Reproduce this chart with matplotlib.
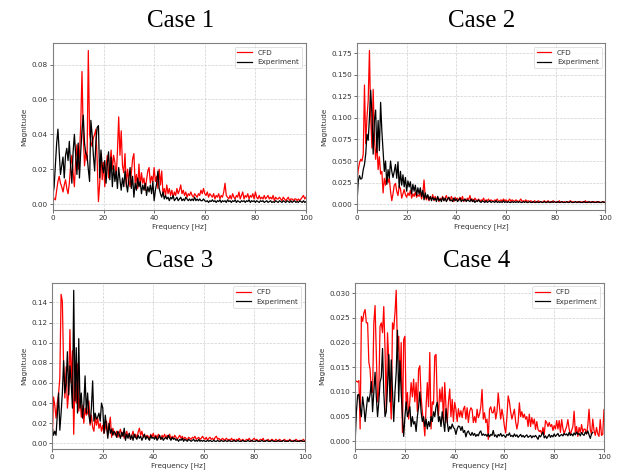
import numpy as np
import matplotlib
matplotlib.use('Agg')
from matplotlib import pyplot as plt
from matplotlib.ticker import MultipleLocator

# Frequency bins [Hz], 0.5 Hz spacing
freq = np.arange(0, 100.5, 0.5)

# Magnitudes, in units of 1e-3 (one row = 5 Hz)
case1_cfd = [
    5, 3, 2.5, 8, 13, 16, 12, 10, 7, 11,
    14, 9, 6, 12, 22, 28, 18, 10, 25, 34,
    20, 28, 45, 76, 40, 22, 30, 25, 88, 40,
    36, 33, 38, 40, 43, 25, 1.5, 12, 29, 14,
    24, 10, 21, 28, 15, 22, 31, 20, 28, 24,
    15, 30, 50, 28, 42, 22, 18, 29, 10, 20,
    14, 10, 18, 26, 29, 12, 17, 9, 23, 10,
    18, 12, 15, 8, 14, 19, 21, 12, 16, 13,
    21, 13, 16, 9, 20, 11, 19, 6, 9, 5,
    11, 6, 9, 5, 8, 4, 7, 5, 9, 6,
    8, 11, 6, 8, 5, 7, 4, 6, 5, 7,
    5, 4, 6, 5, 4, 6, 5, 8, 6, 9,
    6, 5, 7, 4, 6, 5, 4, 6, 3, 5,
    4, 6, 3, 5, 4, 7, 12, 5, 4, 3,
    5, 3, 6, 4, 3, 5, 4, 7, 3, 5,
    7, 3, 5, 4, 6, 3, 5, 4, 6, 3,
    7, 4, 3, 5, 3, 4, 3, 5, 3, 4,
    5, 3, 4, 3, 5, 2, 4, 3, 3, 4,
    3, 2, 4, 3, 2, 3, 4, 2, 3, 3,
    2, 3, 3, 2, 3, 2, 3, 4, 5, 3,
    4,
]
case1_exp = [
    5, 10, 22, 35, 43, 30, 17, 22, 27, 15,
    28, 32, 25, 36, 22, 12, 30, 40, 28, 17,
    35, 15, 30, 42, 51, 35, 29, 28, 20, 13,
    48, 40, 28, 19, 36, 44, 45, 15, 31, 22,
    18, 25, 12, 23, 30, 14, 27, 10, 22, 13,
    19, 9, 21, 14, 8, 15, 10, 19, 12, 7,
    14, 21, 9, 16, 4, 12, 8, 15, 10, 13,
    6, 11, 8, 12, 5, 10, 7, 11, 6, 13,
    2, 8, 12, 19, 9, 6, 4, 7, 3, 5,
    3, 4, 2, 4, 3, 5, 2, 3, 4, 2,
    3, 4, 2, 3, 2, 4, 3, 2, 3, 2,
    3, 2, 4, 2, 3, 2, 3, 2, 2, 3,
    2, 1.5, 2, 1, 2, 1.5, 2.5, 1.5, 2, 1,
    2, 1.5, 2.5, 1, 2, 1.5, 2, 1, 2.5, 1.5,
    2, 1, 2, 1.5, 2.5, 1, 2, 1.5, 1, 2,
    1.5, 2, 1, 2, 1.5, 2.5, 1, 2, 1.5, 2,
    1, 2, 1.5, 1, 2, 1.5, 2, 1, 1.5, 2,
    1, 1.5, 2, 1, 1.5, 1, 2, 1.5, 1, 2,
    1.5, 1, 2, 1.5, 1, 2, 1.5, 1, 2, 1,
    1.5, 2, 1, 1.5, 1, 2, 1.5, 1, 2, 1,
    1.5,
]

case2_cfd = [
    27, 40, 48, 52, 50, 58, 138, 70, 100, 120,
    178, 101, 65, 133, 78, 52, 70, 40, 55, 35,
    38, 13, 30, 22, 34, 25, 30, 15, 4, 12,
    22, 24, 15, 10, 21, 18, 7, 12, 17, 11,
    8, 13, 10, 16, 7, 12, 9, 14, 8, 11,
    9, 14, 6, 12, 28, 8, 5, 10, 4, 8,
    6, 11, 4, 9, 5, 8, 3, 7, 5, 9,
    4, 7, 10, 5, 8, 4, 9, 6, 3, 8,
    5, 7, 4, 8, 5, 9, 3, 6, 4, 7,
    5, 10, 4, 6, 3, 7, 5, 4, 6, 3,
    5, 4, 7, 3, 5, 4, 6, 3, 5, 4,
    3, 5, 4, 6, 3, 4, 5, 3, 6, 4,
    5, 3, 4, 6, 3, 5, 4, 3, 5, 4,
    3, 4, 6, 3, 4, 3, 5, 3, 4, 3,
    4, 3, 2, 4, 3, 2, 4, 3, 3, 2,
    3, 4, 2, 3, 4, 2, 3, 2, 4, 3,
    2, 3, 2, 4, 2, 3, 2, 3, 2, 3,
    2, 3, 4, 2, 3, 2, 3, 2, 3, 2,
    3, 2, 3, 2, 4, 2, 3, 2, 2, 3,
    2, 3, 2, 3, 2, 3, 2, 2, 3, 2,
    3,
]
case2_exp = [
    3, 27, 33, 29, 30, 40, 46, 58, 81, 74,
    100, 132, 105, 58, 97, 109, 60, 97, 62, 118,
    85, 62, 38, 50, 23, 40, 30, 50, 38, 31,
    38, 46, 30, 49, 19, 38, 22, 34, 20, 31,
    15, 27, 20, 26, 12, 23, 15, 22, 10, 19,
    12, 19, 9, 16, 5, 13, 7, 11, 5, 9,
    4, 8, 5, 7, 3, 9, 4, 6, 3, 8,
    4, 7, 3, 6, 8, 4, 5, 3, 7, 4,
    6, 3, 5, 7, 3, 5, 4, 6, 3, 5,
    4, 3, 6, 3, 5, 2, 4, 3, 5, 3,
    2, 4, 3, 2, 4, 2, 3, 4, 2, 3,
    3, 2, 4, 2, 3, 2, 3, 2, 4, 2,
    3, 2, 3, 2, 2, 3, 2, 3, 2, 3,
    2, 3, 2, 2, 3, 2, 3, 2, 2, 3,
    2, 2, 3, 2, 2, 3, 2, 2, 3, 2,
    2, 3, 2, 2, 3, 2, 2, 3, 2, 3,
    2, 2, 3, 2, 2, 3, 2, 2, 2, 3,
    2, 2, 3, 2, 2, 2, 3, 2, 2, 3,
    2, 2, 2, 3, 2, 2, 2, 3, 2, 2,
    3, 2, 2, 2, 3, 2, 2, 2, 3, 2,
    2,
]

case3_cfd = [
    2, 46, 38, 25, 40, 49, 65, 148, 141, 76,
    45, 76, 35, 50, 113, 60, 92, 9, 60, 40,
    79, 32, 45, 26, 38, 20, 35, 28, 30, 42,
    18, 28, 16, 12, 26, 18, 25, 15, 20, 12,
    18, 10, 15, 22, 8, 18, 26, 6, 15, 10,
    8, 12, 6, 10, 14, 7, 11, 5, 9, 12,
    6, 10, 4, 8, 12, 6, 9, 5, 11, 15,
    8, 12, 6, 9, 5, 8, 7, 4, 9, 6,
    10, 6, 8, 5, 9, 7, 4, 8, 6, 9,
    5, 8, 6, 9, 4, 7, 5, 8, 6, 4,
    6, 8, 5, 7, 4, 6, 5, 3, 6, 5,
    4, 6, 5, 7, 4, 5, 6, 4, 5, 7,
    5, 4, 6, 3, 5, 6, 4, 5, 3, 6,
    7, 4, 5, 3, 4, 5, 3, 4, 5, 3,
    4, 3, 5, 3, 4, 2, 4, 3, 5, 3,
    3, 4, 2, 3, 4, 3, 5, 3, 2, 4,
    5, 3, 4, 2, 3, 4, 3, 5, 2, 3,
    3, 4, 2, 3, 4, 3, 2, 4, 3, 2,
    4, 3, 2, 3, 4, 2, 3, 2, 4, 3,
    2, 3, 2, 4, 3, 2, 3, 2, 3, 4,
    2,
]
case3_exp = [
    16, 8, 12, 8, 28, 50, 13, 30, 50, 82,
    50, 60, 91, 48, 77, 60, 35, 152, 42, 95,
    30, 104, 35, 50, 25, 38, 67, 30, 50, 28,
    20, 35, 62, 22, 30, 24, 26, 30, 22, 40,
    35, 10, 28, 16, 5, 20, 10, 14, 8, 12,
    10, 6, 12, 9, 5, 11, 7, 15, 3, 9,
    5, 10, 4, 8, 3, 9, 6, 4, 8, 5,
    7, 3, 6, 9, 4, 7, 5, 3, 8, 5,
    6, 4, 7, 3, 5, 8, 4, 6, 3, 5,
    6, 4, 8, 5, 3, 6, 4, 5, 3, 4,
    2, 4, 3, 5, 2, 4, 3, 2, 4, 3,
    2, 3, 4, 2, 3, 2, 4, 2, 3, 2,
    3, 2, 2, 3, 2, 3, 2, 2, 3, 2,
    2, 3, 2, 2, 3, 2, 2, 3, 2, 2,
    3, 2, 2, 2, 3, 2, 2, 3, 2, 2,
    2, 3, 2, 2, 2, 3, 2, 2, 3, 2,
    2, 2, 3, 2, 2, 2, 3, 2, 2, 2,
    3, 2, 2, 2, 3, 2, 2, 2, 2, 3,
    2, 2, 2, 3, 2, 2, 2, 2, 3, 2,
    2, 2, 3, 2, 2, 2, 2, 3, 2, 2,
    2,
]

case4_cfd = [
    12, 12.2, 12, 12.3, 2.5, 25.3, 24.3, 26, 26.7, 24,
    24, 16, 14.6, 10, 9.9, 24, 27.5, 18, 8, 10,
    23.3, 24, 22, 27.3, 18.6, 6, 22, 16.6, 10, 4.5,
    24, 22.7, 26, 30.6, 18, 21.3, 12, 20, 1.8, 20.6,
    21.3, 6.5, 9.9, 4.5, 8.5, 11.9, 9, 12.6, 8, 11.9,
    6, 14.6, 15.3, 9, 6, 4, 1.1, 7, 11.9, 7,
    18, 2.5, 8, 7.5, 17.3, 17.6, 8, 5.2, 10.6, 8,
    11, 3.8, 11.9, 7, 3.8, 8, 10.6, 5, 8.5, 4,
    7.9, 6.5, 4, 6.6, 5, 6.2, 4.8, 6.5, 7.1, 4.5,
    6.8, 3.8, 6, 6.8, 6.4, 3.8, 5, 3.8, 6.5, 4.8,
    5.5, 7, 10.5, 4.5, 5.8, 3.8, 4.5, 0.4, 6.5, 7,
    5.8, 5.8, 7, 4.5, 6, 9.8, 7, 4.5, 6.5, 5,
    3, 1.7, 5, 9.2, 8, 6, 4.5, 5.5, 6.5, 4,
    2.5, 3.8, 7.8, 5, 6, 4.8, 5.5, 4.5, 5, 3,
    5.5, 3, 4.8, 3.5, 4.5, 2.4, 4, 2.4, 2, 2.2,
    1.5, 2.8, 1.4, 4.2, 3.8, 3, 3.8, 3, 3.4, 2.2,
    3.2, 2.5, 4.2, 2.5, 4.2, 1.8, 4.4, 2.6, 1.5, 2.3,
    3, 4.4, 2.5, 1.4, 2.2, 3, 6.1, 1.8, 3, 1,
    2.8, 1.8, 3.4, 1.8, 2.5, 2.4, 1.5, 3.2, 6.5, 2.4,
    1.4, 4.5, 2.2, 1.2, 2.8, 1.5, 1, 4.4, 1.2, 1.4,
    6.4,
]
# experiment record stops at 95.5 Hz
case4_exp = [
    0, 6, 9.4, 9.5, 7, 5, 9, 7, 4, 6.5,
    9, 8, 9.5, 12.1, 6, 10, 14, 9, 5, 8,
    12, 13, 18.8, 10, 5, 6, 11, 17.6, 8, 16.5,
    10, 4, 10, 14, 22.5, 8, 16.3, 10, 5, 1,
    5, 8, 5, 6, 7, 3, 5, 3.5, 4, 2,
    5, 7, 10, 6, 4, 5, 3, 4.5, 2.5, 4,
    3, 5, 4, 6, 5, 7, 7.9, 4, 5, 3,
    6, 4, 2, 6.6, 4, 2, 3, 2.5, 3.5, 2.8,
    2.5, 1.4, 2.5, 3.1, 3, 2.2, 3, 1.8, 2.2, 0.9,
    1.8, 2.1, 1.5, 1.2, 1.8, 1.2, 1.6, 1, 1.4, 1.1,
    1.8, 2.1, 1.2, 1.5, 1.2, 1.4, 1, 1.5, 0.9, 1.4,
    1.2, 2.2, 1, 1.3, 0.8, 1.4, 1.1, 1.6, 1, 1.3,
    1.1, 0.8, 1.4, 1.2, 1.7, 1, 1.2, 0.9, 1.5, 1,
    1.3, 0.8, 1.1, 1.4, 0.9, 1.2, 0.8, 1.1, 1.3, 0.8,
    1, 1.2, 0.7, 1.1, 0.9, 1.2, 0.8, 0.4, 1.2, 0.9,
    1.4, 1.9, 0.7, 1.1, 0.6, 1, 1.4, 0.8, 1.2, 0.9,
    1.5, 1, 1.3, 1.6, 1, 1.2, 1.4, 1.1, 1.6, 1.3,
    1.5, 1.1, 1.8, 1.2, 1.5, 1.1, 1.7, 1.3, 1.9, 1.4,
    1.6, 1.1, 1.8, 1.4, 1.2, 1.9, 1.5, 2.1, 1.3, 0.6,
    1.5, 1.8,
]

titles = ['Case 1', 'Case 2', 'Case 3', 'Case 4']
y_steps = [0.02, 0.025, 0.02, 0.005]

# axes boxes [left, bottom, width, height] in figure fraction
boxes = [
    [0.085, 0.555, 0.407, 0.354],
    [0.574, 0.555, 0.399, 0.354],
    [0.084, 0.049, 0.406, 0.352],
    [0.571, 0.049, 0.400, 0.352],
]
title_pos = [(0.291, 0.955), (0.775, 0.955), (0.288, 0.447), (0.767, 0.447)]

TXT = '#333333'


def plot_case(ax, cfd, exp, ystep):
    ax.plot(freq[:len(cfd)], np.array(cfd) * 1e-3, color='red', lw=0.9, label='CFD')
    ax.plot(freq[:len(exp)], np.array(exp) * 1e-3, color='black', lw=0.9, label='Experiment')

    ax.set_xlim(0, 100)
    ax.xaxis.set_major_locator(MultipleLocator(20))
    ax.yaxis.set_major_locator(MultipleLocator(ystep))

    ax.set_xlabel('Frequency [Hz]', fontsize=5.2, color=TXT, labelpad=2)
    ax.set_ylabel('Magnitude', fontsize=5.2, color=TXT, labelpad=3)
    ax.tick_params(labelsize=5.2, colors=TXT, length=2, width=0.5, pad=1.5)
    for s in ax.spines.values():
        s.set_color('#808080')
        s.set_linewidth(0.8)

    ax.grid(color='#d0d0d0', linestyle='--', linewidth=0.5)
    ax.set_axisbelow(True)

    leg = ax.legend(loc='upper right', fontsize=5.2, frameon=True, fancybox=True)
    leg.get_frame().set_edgecolor('#cccccc')
    leg.get_frame().set_linewidth(0.5)
    for t in leg.get_texts():
        t.set_color(TXT)


fig = plt.figure(figsize=(6.22, 4.72), dpi=100)

data = [(case1_cfd, case1_exp), (case2_cfd, case2_exp),
        (case3_cfd, case3_exp), (case4_cfd, case4_exp)]

for i in range(4):
    ax = fig.add_axes(boxes[i])
    plot_case(ax, data[i][0], data[i][1], y_steps[i])
    fig.text(title_pos[i][0], title_pos[i][1], titles[i], ha='center', va='center',
             fontsize=18, family='Liberation Serif', color='black')

fig.savefig('out.png', dpi=100)
